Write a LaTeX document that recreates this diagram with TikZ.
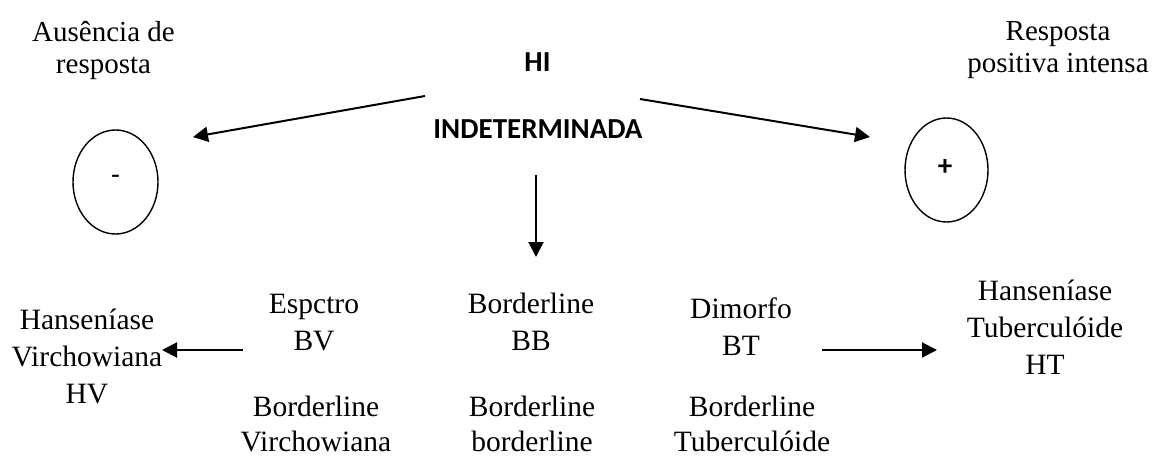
\documentclass[tikz,border=0pt]{standalone}
\usepackage{fontspec}
\setmainfont{Liberation Serif}
\newfontfamily\calib{Carlito}
\usetikzlibrary{arrows.meta}
\tikzset{
  toptxt/.style={align=center, inner sep=0pt, anchor=base, font=\fontsize{29}{32}\selectfont},
  bottxt/.style={align=center, inner sep=0pt, anchor=base, font=\fontsize{29.5}{37}\selectfont},
  pairtxt/.style={bottxt, font=\fontsize{29.5}{35}\selectfont},
  boldtxt/.style={inner sep=0pt, anchor=base, font=\calib\bfseries\fontsize{29}{32}\selectfont},
  oval/.style={line width=1.4pt},
  arr/.style={line width=2pt, -{Triangle[length=15pt,width=15pt]}},
}
\begin{document}
\begin{tikzpicture}[x=1pt,y=-1pt]
\useasboundingbox (0,0) rectangle (1155,457);
% top labels (base = baseline of last line)
\node[toptxt] (aus) at (103.5,74) {Ausência de\\resposta};
\node[toptxt] (resp) at (1058,73) {Resposta\\positiva intensa};
\node[boldtxt] (hi) at (537.5,72) {HI};
\node[boldtxt] (ind) at (538,139) {INDETERMINADA};
% ovals
\draw[oval] (115.5,182) ellipse [x radius=42.5, y radius=52];
\node[inner sep=0pt, font=\calib\fontsize{29}{30}\selectfont] (minus) at (115.5,180) {-};
\draw[oval] (946.5,170) ellipse [x radius=41.5, y radius=52];
\node[inner sep=0pt, font=\calib\bfseries\fontsize{29}{30}\selectfont] (plus) at (945,167) {+};
% arrow coordinates
\coordinate (lA) at (425,96);
\coordinate (lB) at (193,137);
\coordinate (rA) at (640,99);
\coordinate (rB) at (870,137);
\coordinate (dA) at (536,175);
\coordinate (dB) at (536,257);
\draw[arr] (lA) -- (lB);
\draw[arr] (rA) -- (rB);
\draw[arr] (dA) -- (dB);
% bottom labels
\node[bottxt] (hv) at (87,403) {Hanseníase\\Virchowiana\\HV};
\node[bottxt] (esp) at (314,350) {Espctro\\BV};
\node[pairtxt] (bvir) at (316,451) {Borderline\\Virchowiana};
\node[bottxt] (bb) at (531,350) {Borderline\\BB};
\node[pairtxt] (bbord) at (532,451) {Borderline\\borderline};
\node[bottxt] (dim) at (741,355) {Dimorfo\\BT};
\node[pairtxt] (btub) at (752,451) {Borderline\\Tuberculóide};
\node[bottxt] (ht) at (1045,374) {Hanseníase\\Tuberculóide\\HT};
\coordinate (hvA) at (243,350);
\coordinate (hvB) at (162,350);
\draw[arr] (hvA) -- (hvB);
\coordinate (htA) at (822,350);
\coordinate (htB) at (937,350);
\draw[arr] (htA) -- (htB);
\end{tikzpicture}
\end{document}
